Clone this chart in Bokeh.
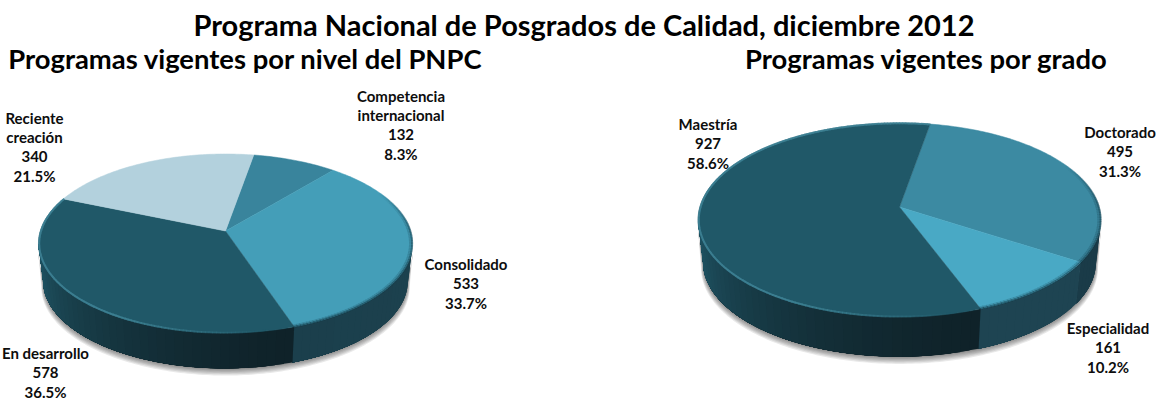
import math
from bokeh.plotting import figure
from bokeh.models import ColumnDataSource, Range1d
from bokeh.core.properties import value
from bokeh.embed import file_html
from bokeh.resources import INLINE

# ---- data
main_title = "Programa Nacional de Posgrados de Calidad, diciembre 2012"
left_title = "Programas vigentes por nivel del PNPC"
right_title = "Programas vigentes por grado"

nivel_categories = ["Competencia\ninternacional", "Consolidado", "En desarrollo", "Reciente\ncreación"]
nivel_values = [132, 533, 578, 340]
nivel_percent = ["8.3%", "33.7%", "36.5%", "21.5%"]

grado_categories = ["Doctorado", "Especialidad", "Maestría"]
grado_values = [495, 161, 927]
grado_percent = ["31.3%", "10.2%", "58.6%"]

# ---- style
DARK = "#205868"
nivel_top = ["#39849c", "#449eb8", DARK, "#b3d1dd"]
nivel_side = [("#1c414e", "#1c414e"), ("#1c414e", "#1b3f4c"), ("#0f2229", "#205666"), ("#205666", "#205666")]
grado_top = ["#3c8aa2", "#49a9c5", DARK]
grado_side = [("#1a3b48", "#1a3b48"), ("#1e4452", "#1e4452"), ("#0f2229", "#205666")]
FONT = value("Lato")
W, H = 1157, 400
BOTTOM_SCALE = 0.975


def hexrgb(h):
    return tuple(int(h[i:i + 2], 16) for i in (1, 3, 5))


def lerp(a, b, t):
    ca, cb = hexrgb(a), hexrgb(b)
    return "#%02x%02x%02x" % tuple(round(x + (y - x) * t) for x, y in zip(ca, cb))


p = figure(width=W, height=H, x_range=Range1d(0, W), y_range=Range1d(H, 0),
           toolbar_location=None, output_backend="svg", min_border=0)
p.axis.visible = False
p.grid.visible = False
p.outline_line_color = None
p.background_fill_color = "white"


def draw_pie(vals, tops, sides, cx, ay, R, S, k, depth, start):
    def proj(deg, dz=0.0, scale=1.0):
        t = math.radians(deg)
        u, v = math.sin(t), -math.cos(t)
        d = 1 - k * v
        return cx + scale * R * u / d, ay + scale * S * v / d + dz

    lo = 90 + math.degrees(math.asin(k))
    hi = 360 - lo
    arc = [lo + (hi - lo) * i / 160 for i in range(161)]

    # soft shadow under the disc
    for i in range(6):
        extra = depth + 6 - i
        pts = [proj(a, extra, BOTTOM_SCALE + 0.002 * (5 - i)) for a in arc] + [proj(a, 10) for a in reversed(arc)]
        p.patch([q[0] for q in pts], [q[1] for q in pts], fill_color="#000000", fill_alpha=0.085, line_color=None)

    total = sum(vals)
    edges = [start]
    for val in vals:
        edges.append(edges[-1] + 360 * val / total)

    # side wall, in overlapping strips
    xs, ys, cols = [], [], []
    for i, (a0, a1) in enumerate(zip(edges[:-1], edges[1:])):
        b0, b1 = max(a0, lo), min(a1, hi)
        if b1 <= b0:
            continue
        n = max(2, int((b1 - b0) / 2.5))
        for j in range(n):
            c0 = b0 + (b1 - b0) * j / n
            steps = [c0 + (b1 - c0) * m / 12 for m in range(13)]
            q = [proj(s) for s in steps] + [proj(s, depth, BOTTOM_SCALE) for s in reversed(steps)]
            xs.append([s[0] for s in q])
            ys.append([s[1] for s in q])
            cols.append(lerp(sides[i][0], sides[i][1], (j / max(1, n - 1)) ** 1.5))
    p.patches(xs, ys, fill_color=cols, line_color=None)

    # top wedges
    xs, ys = [], []
    for a0, a1 in zip(edges[:-1], edges[1:]):
        n = max(2, int(a1 - a0))
        q = [(cx, ay)] + [proj(a0 + (a1 - a0) * j / n) for j in range(n + 1)]
        xs.append([s[0] for s in q])
        ys.append([s[1] for s in q])
    p.patches(xs, ys, fill_color=tops, line_color=tops, line_width=0.5)

    # bevel on the rim: a pale line on the dark slice, a dark blur on the others
    for i, (a0, a1) in enumerate(zip(edges[:-1], edges[1:])):
        if tops[i] == DARK:
            n = int(a1 - a0)
            sx, sy, al = [], [], []
            for j in range(n):
                c0 = a0 + (a1 - a0) * j / n
                c1 = a0 + (a1 - a0) * (j + 1) / n + 0.2
                q0, q1 = proj(c0, 0, 0.996), proj(c1, 0, 0.996)
                sx.append([q0[0], q1[0]])
                sy.append([q0[1], q1[1]])
                al.append(min(0.85, max(0.0, (c0 - a0 - 6) / 50)))
            p.multi_line(sx, sy, line_color="#3f8496", line_alpha=al, line_width=2)
        else:
            b0, b1 = max(a0, 62), min(a1, hi)
            if b1 <= b0:
                continue
            n = max(2, int(b1 - b0))
            for scale, alpha, w in [(0.998, 0.38, 2.0), (0.988, 0.16, 2.5)]:
                sx, sy, al = [], [], []
                for j in range(n):
                    c0 = b0 + (b1 - b0) * j / n
                    c1 = b0 + (b1 - b0) * (j + 1) / n + 0.2
                    q0, q1 = proj(c0, 0, scale), proj(c1, 0, scale)
                    sx.append([q0[0], q1[0]])
                    sy.append([q0[1], q1[1]])
                    al.append(alpha * min(1.0, max(0.0, (c0 - 62) / 25)))
                p.multi_line(sx, sy, line_color="#0f2c38", line_alpha=al, line_width=w)
    return edges


draw_pie(nivel_values, nivel_top, nivel_side, 225, 230.5, 185.2, 87.8, 0.14, 38, 10)
draw_pie(grado_values, grado_top, grado_side, 899, 206.5, 199.7, 95.3, 0.134, 42.5, 10)


def label_lines(cats, vals, pcts, xs, y0s):
    tx, ty, tt = [], [], []
    for c, v, pc, x, y0 in zip(cats, vals, pcts, xs, y0s):
        for n, line in enumerate(c.split("\n") + [str(v), pc]):
            tx.append(x)
            ty.append(y0 + n * 19.6)
            tt.append(line)
    return tx, ty, tt


a = label_lines(nivel_categories, nivel_values, nivel_percent, [400.5, 465.5, 45, 34], [95, 263, 352, 117])
b = label_lines(grado_categories, grado_values, grado_percent, [1119.5, 1107.5, 707.5], [131, 327, 123])
src = ColumnDataSource(dict(x=a[0] + b[0], y=a[1] + b[1], t=a[2] + b[2]))
p.text("x", "y", text="t", source=src, text_font=FONT, text_font_style="bold", text_font_size="15px",
       text_align="center", text_baseline="middle", text_color="#0d0d0d")

titles = ColumnDataSource(dict(x=[583.5, 245, 926], y=[24, 58, 58], t=[main_title, left_title, right_title],
                               s=["29px", "27.4px", "27.4px"]))
p.text("x", "y", text="t", source=titles, text_font=FONT, text_font_style="bold", text_font_size="s",
       text_align="center", text_baseline="middle", text_color="#000000")

open("out.html", "w").write(file_html(p, INLINE))
